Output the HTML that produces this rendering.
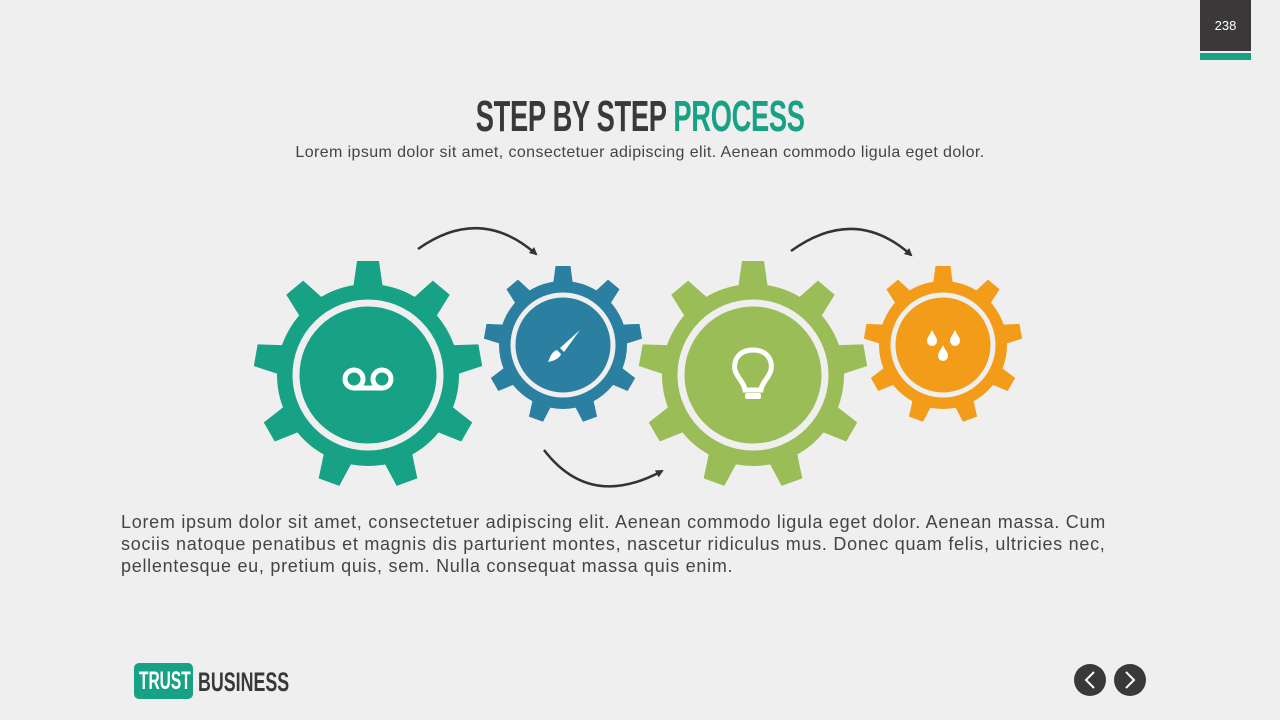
<!DOCTYPE html>
<html><head><meta charset="utf-8"><style>
body{margin:0;width:1280px;height:720px;background:#efefef;position:relative;overflow:hidden;font-family:"Liberation Sans",sans-serif}
.abs{position:absolute}
.title{left:0;width:1280px;top:92px;text-align:center;font-family:"Liberation Sans",sans-serif;font-weight:bold;font-size:44px;color:#3a3838;letter-spacing:-0.5px}
.sub{left:0;width:1280px;top:144px;text-align:center;font-size:16px;color:#444;letter-spacing:0.4px}
.body{left:121px;top:511px;font-size:18px;line-height:22px;color:#444;letter-spacing:0.72px;white-space:nowrap}
</style></head><body>
<div class="abs" style="left:1200px;top:0;width:51px;height:51px;background:#3a3838;color:#fff;font-size:13px;text-align:center;line-height:52px">238</div>
<div class="abs" style="left:1200px;top:53px;width:51px;height:7px;background:#17a185"></div>
<div class="abs title"><span style="display:inline-block;transform:scaleX(0.62)">STEP BY STEP <span style="color:#17a185">PROCESS</span></span></div>
<div class="abs sub">Lorem ipsum dolor sit amet, consectetuer adipiscing elit. Aenean commodo ligula eget dolor.</div>
<svg class="abs" style="left:0;top:0" width="1280" height="720">
<defs>
<polygon id="tb" points="-15,-86 -11,-114 11,-114 15,-86"/>
<polygon id="ts" points="-10,-60 -7.5,-79 7.5,-79 10,-60"/>
<marker id="ah" markerWidth="10" markerHeight="10" refX="6" refY="4" orient="auto" markerUnits="userSpaceOnUse"><path d="M0,0 L8,4 L0,8 z" fill="#333"/></marker>
</defs>
<g fill="#17a185" transform="translate(368,375)">
<circle r="91"/>
<use href="#tb"/><use href="#tb" transform="rotate(40)"/><use href="#tb" transform="rotate(80)"/><use href="#tb" transform="rotate(120)"/><use href="#tb" transform="rotate(160)"/><use href="#tb" transform="rotate(200)"/><use href="#tb" transform="rotate(240)"/><use href="#tb" transform="rotate(280)"/><use href="#tb" transform="rotate(320)"/>
<circle r="72" stroke="#efefef" stroke-width="7"/>
</g>
<g fill="#2b7fa0" transform="translate(563,345)">
<circle r="64"/>
<use href="#ts"/><use href="#ts" transform="rotate(40)"/><use href="#ts" transform="rotate(80)"/><use href="#ts" transform="rotate(120)"/><use href="#ts" transform="rotate(160)"/><use href="#ts" transform="rotate(200)"/><use href="#ts" transform="rotate(240)"/><use href="#ts" transform="rotate(280)"/><use href="#ts" transform="rotate(320)"/>
<circle r="50" stroke="#efefef" stroke-width="5"/>
</g>
<g fill="#9bbd57" transform="translate(753,375)">
<circle r="91"/>
<use href="#tb"/><use href="#tb" transform="rotate(40)"/><use href="#tb" transform="rotate(80)"/><use href="#tb" transform="rotate(120)"/><use href="#tb" transform="rotate(160)"/><use href="#tb" transform="rotate(200)"/><use href="#tb" transform="rotate(240)"/><use href="#tb" transform="rotate(280)"/><use href="#tb" transform="rotate(320)"/>
<circle r="72" stroke="#efefef" stroke-width="7"/>
</g>
<g fill="#f39c1a" transform="translate(943,345)">
<circle r="64"/>
<use href="#ts"/><use href="#ts" transform="rotate(40)"/><use href="#ts" transform="rotate(80)"/><use href="#ts" transform="rotate(120)"/><use href="#ts" transform="rotate(160)"/><use href="#ts" transform="rotate(200)"/><use href="#ts" transform="rotate(240)"/><use href="#ts" transform="rotate(280)"/><use href="#ts" transform="rotate(320)"/>
<circle r="50" stroke="#efefef" stroke-width="5"/>
</g>
<g fill="none" stroke="#fff" stroke-width="5">
<circle cx="354" cy="379" r="9"/><circle cx="382" cy="379" r="9"/><line x1="354" y1="388" x2="382" y2="388"/>
</g>
<path d="M580,330 L564,352 L560,348 Z" fill="#fff"/>
<path d="M557,350 C551,352 550,358 548,362 C554,361 560,358 561,354 Z" fill="#fff"/>
<path d="M753,350 C740,350 733,359 735,370 C737,378 744,382 745,390 L761,390 C762,382 769,378 771,370 C773,359 766,350 753,350 Z" fill="none" stroke="#fff" stroke-width="5"/>
<rect x="745" y="393" width="16" height="6" rx="2" fill="#fff"/>
<g fill="#fff">
<path d="M932,330 C930,335 927,337 927,341 A5,5 0 0 0 937,341 C937,337 934,335 932,330Z"/>
<path d="M955,330 C953,335 950,337 950,341 A5,5 0 0 0 960,341 C960,337 957,335 955,330Z"/>
<path d="M943,345 C941,350 938,352 938,356 A5,5 0 0 0 948,356 C948,352 945,350 943,345Z"/>
</g>
<g fill="none" stroke="#333" stroke-width="2.5" marker-end="url(#ah)">
<path d="M418,249 Q480,205 536,254"/>
<path d="M544,450 Q590,510 662,471"/>
<path d="M791,251 Q855,205 911,255"/>
</g>
<circle cx="1090" cy="680" r="16" fill="#3a3838"/>
<circle cx="1130" cy="680" r="16" fill="#3a3838"/>
<path d="M1094,672 L1086,680 L1094,688" fill="none" stroke="#fff" stroke-width="2"/>
<path d="M1126,672 L1134,680 L1126,688" fill="none" stroke="#fff" stroke-width="2"/>
</svg>
<div class="abs body">Lorem ipsum dolor sit amet, consectetuer adipiscing elit. Aenean commodo ligula eget dolor.  Aenean massa. Cum<br>sociis natoque penatibus et magnis dis parturient montes, nascetur ridiculus mus. Donec quam felis, ultricies nec,<br>pellentesque eu, pretium quis, sem. Nulla consequat massa quis enim.</div>
<div class="abs" style="left:134px;top:663px;width:59px;height:36px;background:#17a185;border-radius:5px"></div>
<div class="abs" style="left:139px;top:664px;color:#fff;font-weight:bold;font-size:25px;line-height:34px;white-space:nowrap;transform-origin:left;transform:scaleX(0.62)">TRUST</div>
<div class="abs" style="left:198px;top:665px;color:#3a3838;font-weight:bold;font-size:27px;line-height:34px;transform-origin:left;transform:scaleX(0.66);white-space:nowrap">BUSINESS</div>
</body></html>
